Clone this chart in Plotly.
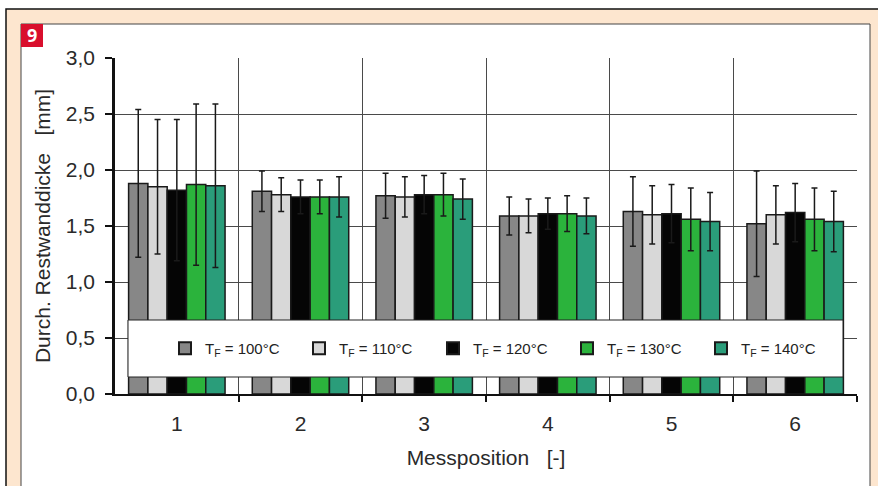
import plotly.graph_objects as go

positions = [1, 2, 3, 4, 5, 6]
pos_labels = ["1", "2", "3", "4", "5", "6"]
series_names = ["T<sub>F</sub> = 100°C", "T<sub>F</sub> = 110°C", "T<sub>F</sub> = 120°C",
                "T<sub>F</sub> = 130°C", "T<sub>F</sub> = 140°C"]

t100 = [1.88, 1.81, 1.77, 1.59, 1.63, 1.52]
t110 = [1.85, 1.78, 1.76, 1.59, 1.60, 1.60]
t120 = [1.82, 1.76, 1.78, 1.61, 1.61, 1.62]
t130 = [1.87, 1.76, 1.78, 1.61, 1.56, 1.56]
t140 = [1.86, 1.76, 1.74, 1.59, 1.54, 1.54]

e100 = [0.66, 0.18, 0.20, 0.17, 0.31, 0.47]
e110 = [0.60, 0.15, 0.18, 0.15, 0.26, 0.26]
e120 = [0.63, 0.15, 0.17, 0.14, 0.26, 0.26]
e130 = [0.72, 0.15, 0.19, 0.16, 0.28, 0.28]
e140 = [0.73, 0.18, 0.18, 0.16, 0.26, 0.27]

colors = ["#878787", "#d8d8d8", "#050505", "#2bb33c", "#2a9d7a"]

values = [t100, t110, t120, t130, t140]
errors = [e100, e110, e120, e130, e140]

W, H = 878, 486
L, R, T, B = 115, 21, 58, 92
pw, ph = W - L - R, H - T - B


def px(x):
    return (x - L) / pw


def py(y):
    return (H - B - y) / ph


fig = go.Figure()
for name, v, e, c in zip(series_names, values, errors, colors):
    fig.add_trace(go.Bar(
        x=positions, y=v, name=name,
        marker=dict(color=c, line=dict(color="#1a1a1a", width=1.5)),
        error_y=dict(type="data", array=e, visible=True, color="#1a1a1a",
                     thickness=1.5, width=3),
    ))

shapes = [
    dict(type="rect", xref="paper", yref="paper", x0=px(6), x1=px(884), y0=py(9), y1=py(495),
         fillcolor="#fde6cf", line=dict(color="#111", width=1.5), layer="below"),
    dict(type="rect", xref="paper", yref="paper", x0=px(21), x1=px(870), y0=py(24), y1=py(495),
         fillcolor="white", line=dict(color="#444", width=1), layer="below"),
    dict(type="rect", xref="paper", yref="paper", x0=px(21), x1=px(43), y0=py(24), y1=py(47),
         fillcolor="#d90f2d", line=dict(width=0), layer="below"),
    dict(type="rect", xref="paper", yref="paper", x0=px(128), x1=px(843), y0=py(320), y1=py(377),
         fillcolor="white", line=dict(color="#222", width=1), layer="above"),
]

annotations = [
    dict(text="<b>9</b>", xref="paper", yref="paper", x=px(32), y=py(35.5),
         showarrow=False, font=dict(family="Open Sans, Arial", size=18, color="white"),
         xanchor="center", yanchor="middle"),
]

fig.update_layout(
    width=W, height=H,
    margin=dict(l=L, r=R, t=T, b=B),
    paper_bgcolor="white", plot_bgcolor="white",
    separators=",.",
    barmode="group", bargap=0.22, bargroupgap=0,
    font=dict(family="Liberation Sans, Arial", color="#2a2a2a"),
    shapes=shapes, annotations=annotations,
    legend=dict(orientation="h", x=px(500), y=py(348.5), xanchor="center", yanchor="middle",
                bgcolor="rgba(0,0,0,0)", borderwidth=0,
                entrywidth=89, entrywidthmode="pixels",
                font=dict(size=15, color="#222"), itemsizing="constant"),
    xaxis=dict(
        range=[0.5, 6.5], tickvals=positions, ticktext=pos_labels,
        ticks="", showgrid=False, zeroline=False,
        showline=True, linecolor="#111", linewidth=2,
        tickfont=dict(size=21), ticklabelstandoff=10,
        minor=dict(tickmode="array", tickvals=[1.5, 2.5, 3.5, 4.5, 5.5, 6.5],
                   showgrid=True, gridcolor="#4a4a4a", gridwidth=1.3,
                   ticks="outside", ticklen=6, tickwidth=1.5, tickcolor="#111"),
        title=dict(text="Messposition   [-]", font=dict(size=21), standoff=16),
    ),
    yaxis=dict(
        range=[0, 3.0], tickvals=[0, 0.5, 1.0, 1.5, 2.0, 2.5, 3.0], tickformat=".1f",
        ticks="outside", ticklen=7, tickwidth=2, tickcolor="#111",
        showgrid=True, gridcolor="#4a4a4a", gridwidth=1.3, zeroline=False,
        showline=True, linecolor="#111", linewidth=2.5,
        tickfont=dict(size=21), ticklabelstandoff=6,
        title=dict(text="Durch. Restwanddicke   [mm]", font=dict(size=21), standoff=10),
    ),
)

fig.write_html("out.html")
